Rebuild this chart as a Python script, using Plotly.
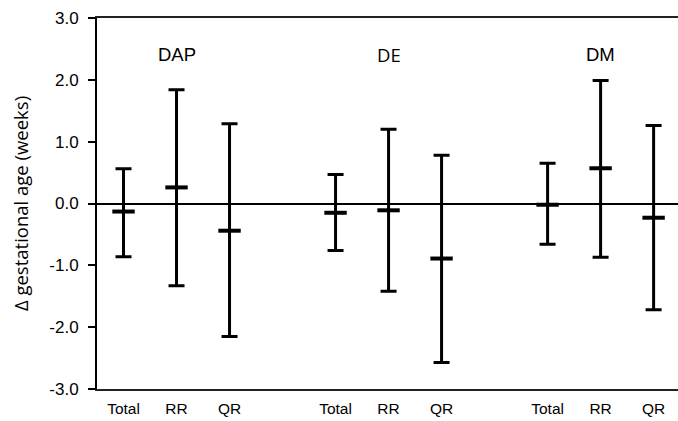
import plotly.graph_objects as go

groups = ["DAP", "DE", "DM"]
subgroups = ["Total", "RR", "QR"]
x_pos = [0, 1, 2, 4, 5, 6, 8, 9, 10]
tick_text = ["Total", "RR", "QR", "Total", "RR", "QR", "Total", "RR", "QR"]

mid = [-0.13, 0.26, -0.44, -0.15, -0.11, -0.89, -0.02, 0.57, -0.23]
upper = [0.56, 1.84, 1.29, 0.47, 1.20, 0.78, 0.65, 1.99, 1.26]
lower = [-0.86, -1.33, -2.15, -0.76, -1.42, -2.57, -0.66, -0.87, -1.72]

label_x = [1, 5, 9]
label_y = [2.41, 2.41, 2.41]
label_fonts = ["Liberation Sans", "Open Sans", "Liberation Sans"]

err_plus = [u - m for u, m in zip(upper, mid)]
err_minus = [m - l for m, l in zip(mid, lower)]

fig = go.Figure()
fig.add_trace(go.Scatter(
    x=x_pos, y=mid, mode="markers",
    marker=dict(symbol="line-ew", size=16, line=dict(width=4, color="black"), color="black"),
    error_y=dict(type="data", symmetric=False, array=err_plus, arrayminus=err_minus,
                 thickness=3, width=8, color="black"),
    showlegend=False, hoverinfo="skip",
))

for g, lx, ly, fnt in zip(groups, label_x, label_y, label_fonts):
    fig.add_annotation(x=lx, y=ly, text=g, showarrow=False,
                       font=dict(family=fnt, size=18.5, color="black"))

fig.update_layout(
    width=678, height=421,
    margin=dict(l=97, r=0, t=18, b=32),
    paper_bgcolor="white", plot_bgcolor="white",
    font=dict(family="Liberation Sans", size=14, color="black"),
)
fig.update_xaxes(
    range=[-0.5, 10.46], tickvals=x_pos, ticktext=tick_text,
    showline=True, linecolor="#222", linewidth=1.5, mirror=True,
    showgrid=False, zeroline=False, ticks="", ticklabelstandoff=5,
    tickfont=dict(family="Liberation Sans", size=15.5, color="black"),
)
fig.update_yaxes(
    range=[-3, 3], tickvals=[-3, -2, -1, 0, 1, 2, 3],
    ticktext=["-3.0", "-2.0", "-1.0", "0.0", "1.0", "2.0", "3.0"],
    showline=True, linecolor="black", linewidth=2,
    showgrid=False, zeroline=True, zerolinecolor="black", zerolinewidth=1.5,
    ticks="outside", ticklen=7, tickwidth=1.5, tickcolor="black",
    ticklabelstandoff=6,
    tickfont=dict(family="Liberation Sans", size=17, color="black"),
    title=dict(text="Δ gestational age (weeks)", standoff=16,
               font=dict(family="Open Sans", size=18.5, color="black")),
)

fig.write_html("out.html", config={"displayModeBar": False},
               post_script="document.body.style.margin='0';document.body.style.overflow='hidden';")
